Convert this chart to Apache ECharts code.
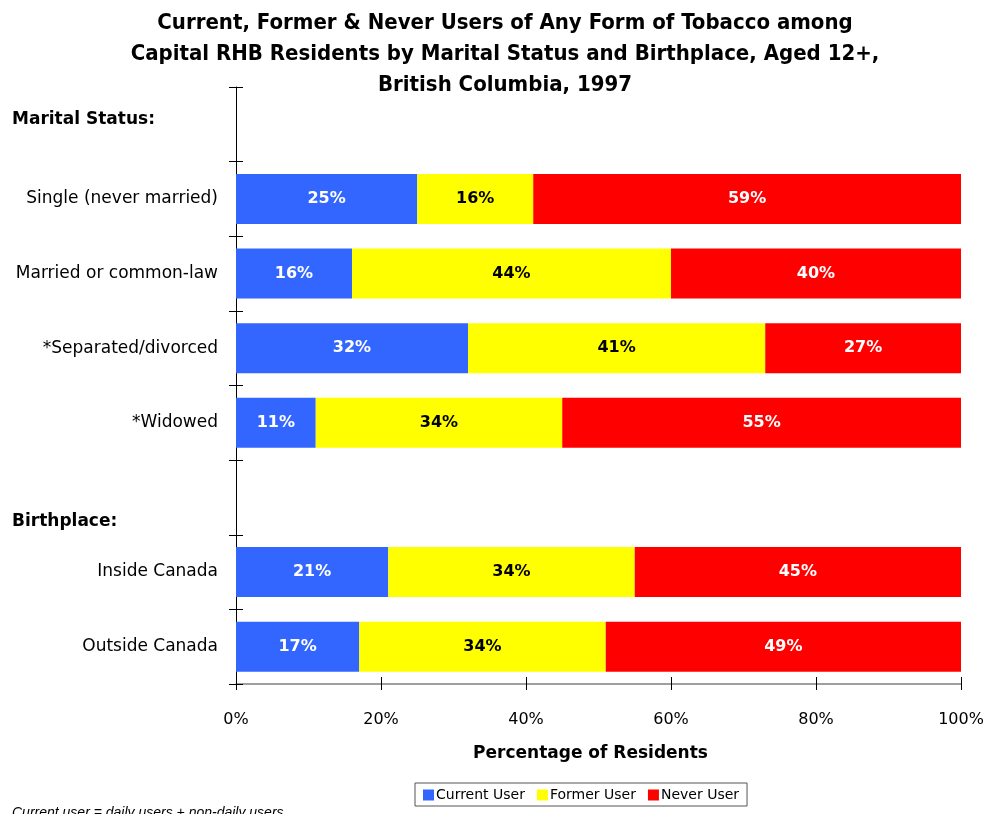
<!DOCTYPE html>
<html>
<head>
<meta charset="utf-8">
<script src="https://cdn.jsdelivr.net/npm/echarts@6/dist/echarts.min.js"></script>
<style>
  html, body { margin: 0; padding: 0; background: #fff; }
  #chart { width: 987px; height: 814px; }
</style>
</head>
<body>
<div id="chart"></div>
<script>
// Category slots, top to bottom; the two group headings occupy their own slots
const categories = ['Marital Status:', 'Single (never married)', 'Married or common-law',
  '*Separated/divorced', '*Widowed', 'Birthplace:', 'Inside Canada', 'Outside Canada'];
const headings = ['Marital Status:', 'Birthplace:'];

// Percentages per category (null for heading slots)
const currentUser = [null, 25, 16, 32, 11, null, 21, 17];
const formerUser  = [null, 16, 44, 41, 34, null, 34, 34];
const neverUser   = [null, 59, 40, 27, 55, null, 45, 49];

const xTicks = [0, 20, 40, 60, 80, 100];

const FONT = 'DejaVu Sans';
const chart = echarts.init(document.getElementById('chart'), null, { renderer: 'canvas' });

function barSeries(name, data, color, labelColor) {
  return {
    name, type: 'bar', stack: 'total', data, barWidth: 50,
    itemStyle: { color },
    label: {
      show: true, position: 'inside', color: labelColor,
      fontFamily: FONT, fontWeight: 'bold', fontSize: 16,
      formatter: p => p.value == null ? '' : p.value + '%'
    },
    emphasis: { disabled: true }
  };
}

const yBase = {
  type: 'category', data: categories, inverse: true,
  axisLine: { show: true, lineStyle: { color: '#000', width: 1 } },
  splitLine: { show: false }
};
const xBase = {
  type: 'value', min: 0, max: 100, interval: 20,
  splitLine: { show: false }
};

chart.setOption({
  animation: false,
  backgroundColor: '#fff',
  title: {
    text: 'Current, Former & Never Users of Any Form of Tobacco among\nCapital RHB Residents by Marital Status and Birthplace, Aged 12+,\nBritish Columbia, 1997',
    left: 500, top: 3, textAlign: 'center',
    textStyle: { fontFamily: '"Liberation Sans Narrow", "DejaVu Sans Condensed"', fontWeight: 'bold', fontSize: 22, lineHeight: 31, color: '#000' }
  },
  grid: { left: 236, right: 26, top: 87, bottom: 130 },
  legend: {
    left: 415, top: 783, itemWidth: 11, itemHeight: 11, itemGap: 12,
    padding: [5, 8, 4, 8],
    borderColor: '#555', borderWidth: 1,
    icon: 'rect',
    textStyle: { fontFamily: FONT, fontSize: 14, color: '#000', padding: [0, 0, 0, -3] },
    data: ['Current User', 'Former User', 'Never User']
  },
  xAxis: [
    Object.assign({}, xBase, {
      name: 'Percentage of Residents', nameLocation: 'middle', nameGap: 61,
      nameTextStyle: { fontFamily: FONT, fontWeight: 'bold', fontSize: 17, color: '#000', padding: [0, 16, 0, 0] },
      axisLine: { show: true, lineStyle: { color: '#808080', width: 1.5 } },
      axisTick: { show: true, length: 6, lineStyle: { color: '#000' } },
      axisLabel: {
        margin: 28, fontFamily: FONT, fontSize: 16, color: '#000',
        formatter: v => xTicks.includes(v) ? v + '%' : ''
      }
    }),
    Object.assign({}, xBase, {
      position: 'bottom',
      axisLine: { show: false },
      axisTick: { show: true, inside: true, length: 7, lineStyle: { color: '#000' } },
      axisLabel: { show: false }
    })
  ],
  yAxis: [
    Object.assign({}, yBase, {
      axisTick: { show: true, length: 7, lineStyle: { color: '#000' } },
      axisLabel: {
        margin: 18, fontFamily: FONT, fontSize: 17, color: '#000',
        formatter: v => headings.includes(v) ? '' : v
      }
    }),
    Object.assign({}, yBase, {
      position: 'left',
      axisLine: { show: false },
      axisTick: { show: true, inside: true, length: 7, lineStyle: { color: '#000' } },
      axisLabel: { show: false }
    })
  ],
  series: [
    barSeries('Current User', currentUser, '#3366FF', '#fff'),
    barSeries('Former User', formerUser, '#FFFF00', '#000'),
    barSeries('Never User', neverUser, '#FF0000', '#fff')
  ],
  graphic: [
    { type: 'text', left: 12, top: 111,
      style: { text: headings[0], font: 'bold 17px "DejaVu Sans"', fill: '#000' } },
    { type: 'text', left: 12, top: 513,
      style: { text: headings[1], font: 'bold 17px "DejaVu Sans"', fill: '#000' } },
    { type: 'text', left: 12, top: 806,
      style: { text: 'Current user = daily users + non-daily users', font: 'italic 14px "Liberation Sans"', fill: '#000' } }
  ]
});
</script>
</body>
</html>
